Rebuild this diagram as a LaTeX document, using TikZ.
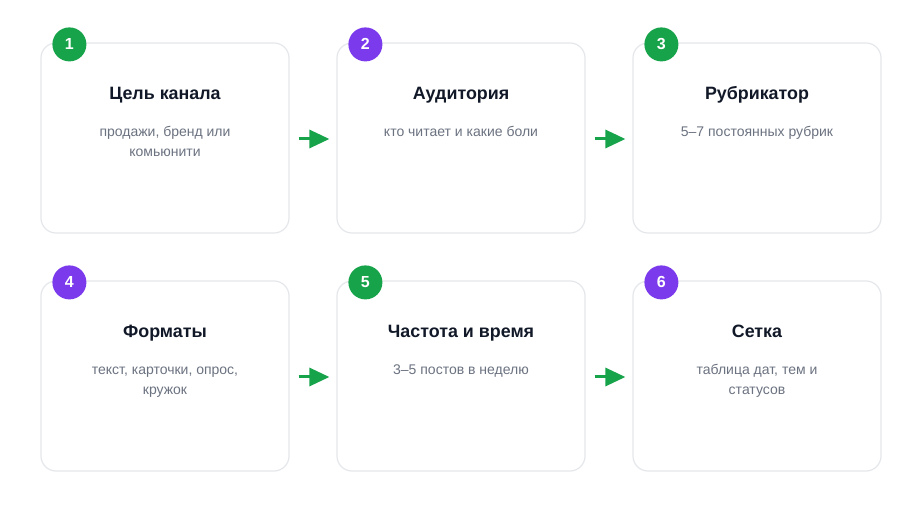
\documentclass[tikz,border=0pt]{standalone}
\usepackage{fontspec}
\setmainfont{Liberation Sans}
\usetikzlibrary{arrows.meta,calc,backgrounds}
\definecolor{cgreen}{HTML}{16A34A}
\definecolor{cpurple}{HTML}{7C3AED}
\definecolor{ctitle}{HTML}{111827}
\definecolor{csub}{HTML}{6B7280}
\definecolor{cborder}{HTML}{E5E7EB}
\begin{document}
\begin{tikzpicture}[x=0.75pt,y=-0.75pt,
  card/.style={draw=cborder, line width=0.9pt, fill=white, rounded corners=11.25pt,
    minimum width=186pt, minimum height=142.5pt, inner sep=0pt},
  badge/.style={circle, fill=#1, text=white, minimum size=25.5pt, inner sep=0pt,
    font=\fontsize{12pt}{13pt}\selectfont\bfseries},
  ttl/.style={anchor=base, inner sep=0pt, text=ctitle, font=\fontsize{13.4pt}{15pt}\selectfont\bfseries},
  sub/.style={anchor=base, inner sep=0pt, text=csub, font=\fontsize{10.5pt}{12pt}\selectfont},
  flow/.style={draw=cgreen, line width=2.25pt, -{Triangle[length=15pt,width=13.5pt]}}
]
\useasboundingbox (0,0) rectangle (922,516);
\fill[white] (0,0) rectangle (922,516);

% cards
\node[card] (c1) at (165,138) {};
\node[card] (c2) at (461,138) {};
\node[card] (c3) at (757,138) {};
\node[card] (c4) at (165,376) {};
\node[card] (c5) at (461,376) {};
\node[card] (c6) at (757,376) {};

% shadows
\begin{scope}[on background layer]
\foreach \c in {c1,c2,c3,c4,c5,c6}{
  \foreach \i in {1,...,10}{
    \fill[black,opacity=0.013,rounded corners=12pt]
      ($(\c.north west)+(-\i,4-\i)$) rectangle ($(\c.south east)+(\i,4+\i)$);
  }
}
\end{scope}

% badges
\node[badge=cgreen]  (b1) at ($(c1.north west)+(29,2)$) {1};
\node[badge=cpurple] (b2) at ($(c2.north west)+(29,2)$) {2};
\node[badge=cgreen]  (b3) at ($(c3.north west)+(29,2)$) {3};
\node[badge=cpurple] (b4) at ($(c4.north west)+(29,2)$) {4};
\node[badge=cgreen]  (b5) at ($(c5.north west)+(29,2)$) {5};
\node[badge=cpurple] (b6) at ($(c6.north west)+(29,2)$) {6};

% titles
\node[ttl] (t1) at ($(c1.north)+(0,57)$) {Цель канала};
\node[ttl] (t2) at ($(c2.north)+(0,57)$) {Аудитория};
\node[ttl] (t3) at ($(c3.north)+(0,57)$) {Рубрикатор};
\node[ttl] (t4) at ($(c4.north)+(0,57)$) {Форматы};
\node[ttl] (t5) at ($(c5.north)+(0,57)$) {Частота и время};
\node[ttl] (t6) at ($(c6.north)+(0,57)$) {Сетка};

% subtitles
\node[sub] (s1a) at ($(c1.north)+(0,94)$) {продажи, бренд или};
\node[sub] (s1b) at ($(c1.north)+(0,114)$) {комьюнити};
\node[sub] (s2a) at ($(c2.north)+(0,94)$) {кто читает и какие боли};
\node[sub] (s3a) at ($(c3.north)+(0,94)$) {5–7 постоянных рубрик};
\node[sub] (s4a) at ($(c4.north)+(0,94)$) {текст, карточки, опрос,};
\node[sub] (s4b) at ($(c4.north)+(0,114)$) {кружок};
\node[sub] (s5a) at ($(c5.north)+(0,94)$) {3–5 постов в неделю};
\node[sub] (s6a) at ($(c6.north)+(0,94)$) {таблица дат, тем и};
\node[sub] (s6b) at ($(c6.north)+(0,114)$) {статусов};

% arrows
\draw[flow] ($(c1.east)+(9,1)$) -- ($(c2.west)+(-7,1)$);
\draw[flow] ($(c2.east)+(9,1)$) -- ($(c3.west)+(-7,1)$);
\draw[flow] ($(c4.east)+(9,1)$) -- ($(c5.west)+(-7,1)$);
\draw[flow] ($(c5.east)+(9,1)$) -- ($(c6.west)+(-7,1)$);
\end{tikzpicture}
\end{document}
